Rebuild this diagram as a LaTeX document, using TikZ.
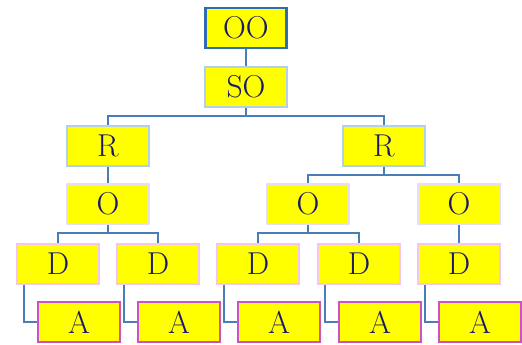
\documentclass[tikz,border=0pt]{standalone}
\usepackage{tikz}
\usepackage{xcolor}
\definecolor{linkblue}{HTML}{4A7EBB}
\definecolor{topblue}{HTML}{2E6DB4}
\definecolor{paleblue}{HTML}{B4CFEA}
\definecolor{palelilac}{HTML}{E6DEF6}
\definecolor{palepink}{HTML}{F4C6EE}
\definecolor{magentaA}{HTML}{D050C8}
\definecolor{navytext}{HTML}{1A1A66}
\definecolor{boxyellow}{HTML}{FFFF00}
\tikzstyle{link}=[draw=linkblue,line width=1.2pt]

\begin{document}
\begin{tikzpicture}[x=0.02cm,y=-0.02cm]
  \tikzstyle boxS=[rectangle,fill=boxyellow,line width=1.4pt,minimum width=1.64cm,
    minimum height=0.8cm,inner sep=0pt,text=navytext,font=\fontsize{18}{21}\selectfont];
  \useasboundingbox (0,0) rectangle (522,345);
  \node[boxS,draw=topblue,line width=1.7pt] (OO) at (246,28) {OO};
  \node[boxS,draw=paleblue] (SO) at (246,87) {SO};
  \foreach \rname/\rx in {R1/108,R2/384}
    \node[boxS,draw=paleblue] (\rname) at (\rx,146) {R};
  \foreach \oname/\ox in {O1/108,O2/308,O3/459}
    \node[boxS,draw=palelilac] (\oname) at (\ox,204) {O};
  \foreach \dname/\dx in {D1/58,D2/158,D3/258,D4/359,D5/459}
    \node[boxS,draw=palepink] (\dname) at (\dx,264) {D};
  \foreach \aname/\ax in {A1/79,A2/179,A3/279,A4/380,A5/480}
    \node[boxS,draw=magentaA] (\aname) at (\ax,322) {A};

  \draw[link] (OO.south) -- (SO.north);
  \foreach \pa/\ch in {SO/R1,SO/R2,R1/O1,R2/O2,R2/O3,O1/D1,O1/D2,O2/D3,O2/D4,O3/D5}
    \draw[link] (\pa.south) -- ++(0,8) -| (\ch.north);
  \foreach \d/\a in {D1/A1,D2/A2,D3/A3,D4/A4,D5/A5}
    \draw[link] ([xshift=0.16cm]\d.south west) |- (\a.west);
\end{tikzpicture}
\end{document}
